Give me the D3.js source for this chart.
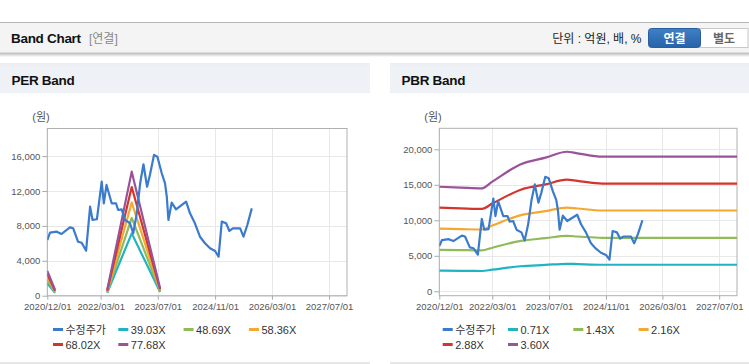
<!DOCTYPE html>
<html><head><meta charset="utf-8">
<script src="https://cdn.jsdelivr.net/npm/d3@7/dist/d3.min.js"></script>
<style>
html,body{margin:0;padding:0;background:#fff;}
svg{display:block;font-family:"Liberation Sans","Noto Sans CJK KR",sans-serif;}
</style></head><body>
<svg id="c" width="749" height="364"></svg>
<script>
// ---------- data ----------
const priceDates = ["2020-12-01","2020-12-24","2021-02-20","2021-04-01","2021-06-12","2021-07-10","2021-08-20","2021-09-20","2021-10-28","2021-12-01","2021-12-22","2022-01-28","2022-02-18","2022-03-10","2022-03-28","2022-04-20","2022-06-03","2022-07-10","2022-07-28","2022-08-27","2022-09-25","2022-11-06","2022-12-04","2023-01-03","2023-02-01","2023-03-01","2023-04-01","2023-04-25","2023-05-30","2023-06-28","2023-08-04","2023-09-01","2023-09-16","2023-09-30","2023-10-28","2023-12-04","2024-02-28","2024-04-01","2024-05-13","2024-06-25","2024-08-07","2024-09-19","2024-11-01","2024-12-01","2024-12-28","2025-02-03","2025-03-03","2025-04-01","2025-06-03","2025-07-01","2025-08-03","2025-09-10"];
const priceValues = [6380,7220,7340,7070,7840,7720,6190,6070,5160,10200,8680,8760,10970,13070,10590,12690,10590,10590,9820,9900,8680,8300,7150,9440,12880,15060,12490,13830,16130,15930,14030,12880,11350,8680,10660,9900,10780,9440,8300,6760,6010,5430,5120,4470,8490,8300,7420,7720,7720,6760,8100,10010];

const perLabels = ["39.03X","48.69X","58.36X","68.02X","77.68X"];
const perMultiples = [39.03,48.69,58.36,68.02,77.68];
const epsDates = ["2020-12-01","2021-02-05","2021-06-01","2022-04-26","2022-11-21","2023-07-21"];
const epsValues = [36.5,8.4,null,8.4,183,10.8];

const pbrLabels = ["0.71X","1.43X","2.16X","2.88X","3.60X"];
const pbrMultiples = [0.71,1.43,2.16,2.88,3.60];
const bpsDates = ["2020-12-01","2021-06-01","2021-12-01","2022-03-01","2022-11-01","2023-06-01","2023-12-01","2024-03-01","2024-10-01","2027-12-01"];
const bpsValues = [4090,4060,4030,4290,4970,5230,5460,5400,5270,5270];

const xTickLabels = ["2020/12/01","2022/03/01","2023/07/01","2024/11/01","2026/03/01","2027/07/01"];
const perYTicks = [0,4000,8000,12000,16000];
const pbrYTicks = [0,5000,10000,15000,20000];
const priceName = "수정주가";
const bandColors = ["#22b3c2","#8fbb58","#f4a830","#d2352c","#9a5299"];
const priceColor = "#3a7bce";

// ---------- layout ----------
const svg = d3.select("#c");
const parse = d3.timeParse("%Y-%m-%d");
const parseTick = d3.timeParse("%Y/%m/%d");

svg.append("rect").attr("x",0).attr("y",0).attr("width",749).attr("height",364).attr("fill","#fff");
const defs = svg.append("defs");
const sh = defs.append("linearGradient").attr("id","shadow").attr("x1",0).attr("y1",0).attr("x2",0).attr("y2",1);
sh.append("stop").attr("offset",0).attr("stop-color","#bdbdbd");
sh.append("stop").attr("offset",1).attr("stop-color","#fff");
const bg = defs.append("linearGradient").attr("id","btn").attr("x1",0).attr("y1",0).attr("x2",0).attr("y2",1);
bg.append("stop").attr("offset",0).attr("stop-color","#3f80c7");
bg.append("stop").attr("offset",1).attr("stop-color","#2763a8");

svg.append("rect").attr("x",0).attr("y",22.5).attr("width",749).attr("height",30.5).attr("fill","#f4f4f4");
svg.append("rect").attr("x",0).attr("y",53).attr("width",749).attr("height",4).attr("fill","url(#shadow)");
svg.append("line").attr("x1",0).attr("x2",749).attr("y1",22.5).attr("y2",22.5).attr("stroke","#b8b8b8");
svg.append("line").attr("x1",0).attr("x2",749).attr("y1",53).attr("y2",53).attr("stroke","#c4c4c4");
svg.append("text").attr("x",11).attr("y",42.5).attr("font-size",13.5).attr("font-weight","bold").attr("fill","#111").attr("letter-spacing",-0.3).text("Band Chart");
svg.append("text").attr("x",89).attr("y",42.5).attr("font-size",12).attr("fill","#888").text("[연결]");
svg.append("text").attr("x",641.5).attr("y",42.5).attr("font-size",12).attr("fill","#222").attr("text-anchor","end").text("단위 : 억원, 배, %");
svg.append("rect").attr("x",700).attr("y",28.5).attr("width",48).attr("height",19).attr("fill","#fff").attr("stroke","#c8c8c8");
svg.append("rect").attr("x",648.5).attr("y",28.5).attr("width",52).attr("height",19).attr("rx",3).attr("fill","url(#btn)").attr("stroke","#2a5f9e");
svg.append("text").attr("x",674.5).attr("y",42.5).attr("font-size",12).attr("font-weight","bold").attr("fill","#fff").attr("text-anchor","middle").text("연결");
svg.append("text").attr("x",724).attr("y",42.5).attr("font-size",12).attr("font-weight","bold").attr("fill","#666").attr("text-anchor","middle").text("별도");

function panel(cfg){
  const g = svg.append("g");
  g.append("line").attr("x1",cfg.px0).attr("x2",cfg.px1).attr("y1",64).attr("y2",64).attr("stroke","#dcdcdc");
  g.append("rect").attr("x",cfg.px0).attr("y",64.5).attr("width",cfg.px1-cfg.px0).attr("height",28.5).attr("fill","#eef2f7");
  g.append("line").attr("x1",cfg.px0).attr("x2",cfg.px1).attr("y1",363).attr("y2",363).attr("stroke","#cfcfcf");
  g.append("text").attr("x",cfg.px0+11.5).attr("y",85).attr("font-size",13.5).attr("font-weight","bold").attr("fill","#111").attr("letter-spacing",-0.3).text(cfg.title);

  const x = d3.scaleTime().domain([parse("2020-12-01"),parse("2027-12-01")]).range([cfg.left,cfg.right]);
  const y = d3.scaleLinear().domain(cfg.yDomain).range([cfg.bottom,cfg.top]);
  const xt = xTickLabels.map(parseTick);

  g.append("g").selectAll("line").data(cfg.yTicks).join("line")
    .attr("x1",cfg.left).attr("x2",cfg.right).attr("y1",d=>Math.round(y(d))+0.5).attr("y2",d=>Math.round(y(d))+0.5).attr("stroke","#e8e8e8");
  g.append("g").selectAll("line").data(xt).join("line")
    .attr("y1",cfg.top).attr("y2",cfg.bottom).attr("x1",d=>Math.round(x(d))+0.5).attr("x2",d=>Math.round(x(d))+0.5).attr("stroke","#e8e8e8");

  const ya = d3.axisLeft(y).tickValues(cfg.yTicks).tickFormat(d3.format(",")).tickSize(5).tickPadding(2);
  const yg = g.append("g").attr("transform",`translate(${cfg.left},0)`).call(ya);
  yg.select(".domain").remove();
  yg.selectAll("line").attr("stroke","#aaa");
  yg.selectAll("text").attr("font-size",9.5).attr("fill","#555").attr("font-family","inherit");
  const xa = d3.axisBottom(x).tickValues(xt).tickFormat(d3.timeFormat("%Y/%m/%d")).tickSize(4).tickPadding(4);
  const xg = g.append("g").attr("transform",`translate(0,${cfg.bottom})`).call(xa);
  xg.select(".domain").remove();
  xg.selectAll("line").attr("stroke","#aaa");
  xg.selectAll("text").attr("font-size",9.5).attr("fill","#555").attr("font-family","inherit");

  g.append("rect").attr("x",cfg.left).attr("y",cfg.top).attr("width",cfg.right-cfg.left).attr("height",cfg.bottom-cfg.top)
    .attr("fill","none").attr("stroke","#b0b0b0");
  g.append("text").attr("x",cfg.left-15).attr("y",121).attr("font-size",11).attr("fill","#555").text("(원)");

  const clipId = "clip"+cfg.title.replace(/\s/g,"");
  defs.append("clipPath").attr("id",clipId).append("rect").attr("x",cfg.left).attr("y",cfg.top).attr("width",cfg.right-cfg.left).attr("height",cfg.bottom-cfg.top);
  const lg = g.append("g").attr("clip-path",`url(#${clipId})`);

  const bandLine = d3.line().defined(d=>d[1]!=null).x(d=>x(d[0])).y(d=>y(d[1])).curve(cfg.smooth?d3.curveMonotoneX:d3.curveLinear);
  const line = d3.line().x(d=>x(d[0])).y(d=>y(d[1]));
  const base = cfg.baseDates.map((d,i)=>[parse(d),cfg.baseValues[i]]);
  cfg.multiples.forEach((m,k)=>{
    lg.append("path").attr("d",bandLine(base.map(d=>[d[0],d[1]==null?null:d[1]*m])))
      .attr("fill","none").attr("stroke",bandColors[k]).attr("stroke-width",2.2).attr("stroke-linejoin","round");
  });
  lg.append("path").attr("d",line(priceDates.map((d,i)=>[parse(d),priceValues[i]])))
    .attr("fill","none").attr("stroke",priceColor).attr("stroke-width",2.2).attr("stroke-linejoin","round");

  const items = [{n:priceName,c:priceColor}].concat(cfg.labels.map((l,i)=>({n:l,c:bandColors[i]})));
  items.forEach((it,i)=>{
    const col = i%4, row = Math.floor(i/4);
    const lx = cfg.legX + col*65.3, ly = 329.5 + row*15;
    g.append("line").attr("x1",lx).attr("x2",lx+10).attr("y1",ly).attr("y2",ly).attr("stroke",it.c).attr("stroke-width",3);
    g.append("text").attr("x",lx+12.5).attr("y",ly+4).attr("font-size",11).attr("fill","#333").text(it.n);
  });
}

panel({title:"PER Band",px0:0,px1:370,left:47.3,right:347,top:128.5,bottom:295.7,yDomain:[0,19160],yTicks:perYTicks,
  baseDates:epsDates,baseValues:epsValues,multiples:perMultiples,labels:perLabels,legX:53,smooth:false});
panel({title:"PBR Band",px0:390,px1:749,left:439.3,right:737,top:128.3,bottom:295.7,yDomain:[-620,22960],yTicks:pbrYTicks,
  baseDates:bpsDates,baseValues:bpsValues,multiples:pbrMultiples,labels:pbrLabels,legX:442.7,smooth:true});
</script>
</body></html>
